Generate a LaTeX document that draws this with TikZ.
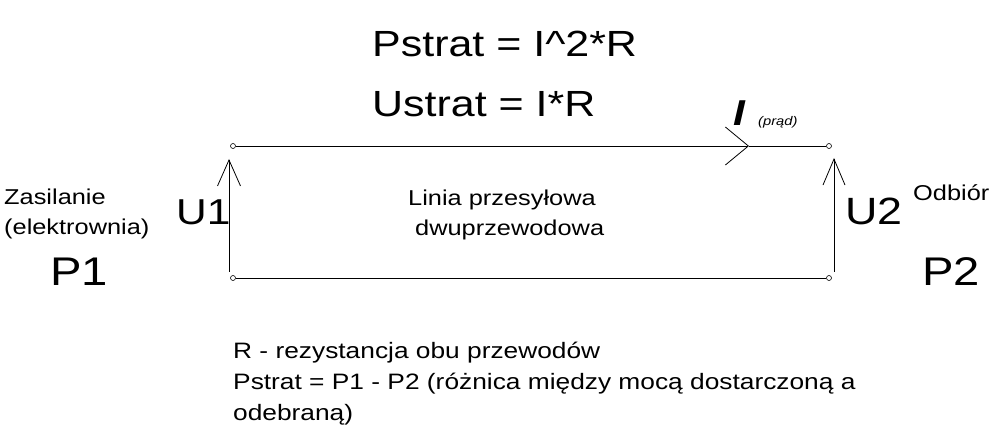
\documentclass[tikz,border=0pt]{standalone}
\usepackage{fontspec}
\setmainfont[FakeStretch=1.18]{Liberation Sans}
\usetikzlibrary{arrows.meta}
\tikzset{
	term/.style={circle,draw,inner sep=0pt,minimum size=5pt,line width=0.6pt},
	wire/.style={line width=0.8pt},
	txt/.style={anchor=base west,inner sep=0pt,align=left},
	barb/.style={-{Straight Barb[length=#1,line width=0.8pt]}}
}
\newcommand{\fs}[2]{\fontsize{#1}{#2}\selectfont}
\begin{document}
\begin{tikzpicture}[x=1pt,y=-1pt]
		\useasboundingbox (0,0) rectangle (997,443);
		% zaciski linii
		\node[term] (a1) at (233,146) {};
		\node[term] (a2) at (829,146) {};
		\node[term] (b1) at (233,278) {};
		\node[term] (b2) at (829,278) {};
		\coordinate (ipos) at (749,146);
		\draw[wire,barb={23pt,width=38pt}] (a1) -- (ipos);
		\draw[wire] (ipos) -- (a2);
		\draw[wire] (b1) -- (b2);
		% napiecia
		\coordinate (u1b) at (229,272);
		\coordinate (u1t) at (229,159);
		\coordinate (u2b) at (834,272);
		\coordinate (u2t) at (834,158);
		\draw[wire,barb={26pt,width=23pt}] (u1b) -- (u1t);
		\draw[wire,barb={26pt,width=22pt}] (u2b) -- (u2t);
		% opisy (dla wielu linii: base = ostatnia linia)
		\node[txt,font=\fs{36.4}{40}] (ps) at (372,57) {Pstrat = I\^{}2*R};
		\node[txt,font=\fs{36.4}{40}] (us) at (372,117) {Ustrat = I*R};
		\node[txt,font=\fs{36}{40}\bfseries\itshape] (ii) at (733,126) {I};
		\node[txt,font=\fs{12.5}{14}\itshape] (pr) at (758,126) {(prąd)};
		\node[txt,font=\fs{21.5}{30}] (zas) at (4,235) {Zasilanie\\(elektrownia)};
		\node[txt,font=\fs{40}{44}] (p1) at (50,286) {P1};
		\node[txt,font=\fs{36}{40}] (u1) at (176,225) {U1};
		\node[txt,font=\fs{21.5}{30}] (lin) at (408,236) {Linia przesyłowa\\\hspace*{7pt}dwuprzewodowa};
		\node[txt,font=\fs{38}{42}] (u2) at (845,225) {U2};
		\node[txt,font=\fs{21.5}{30}] (odb) at (913,201) {Odbiór};
		\node[txt,font=\fs{40}{44}] (p2) at (922,286) {P2};
		\node[txt,font=\fs{22.3}{31}] (opis) at (233,421) {R - rezystancja obu przewodów\\Pstrat = P1 - P2 (różnica między mocą dostarczoną a\\odebraną)};
	\end{tikzpicture}
\end{document}
